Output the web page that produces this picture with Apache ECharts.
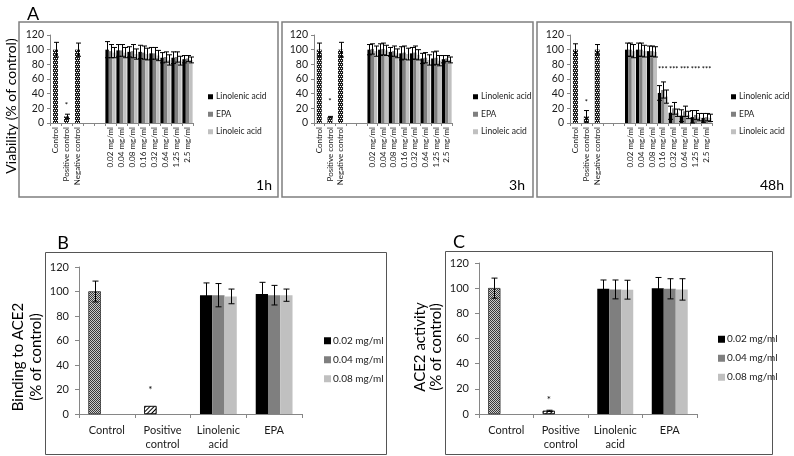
<!DOCTYPE html>
<html><head><meta charset="utf-8">
<script src="https://cdn.jsdelivr.net/npm/echarts@6/dist/echarts.min.js"></script>
<style>html,body{margin:0;padding:0;background:#fff}#c{width:794px;height:456px}</style>
</head><body><div id="c"></div>
<script>
// ---------------- DATA ----------------
const controlLabels = ['Control', 'Positive control', 'Negative control'];
const blankLabels = [' ', '  '];
const concLabels = ['0.02 mg/ml', '0.04 mg/ml', '0.08 mg/ml', '0.16 mg/ml', '0.32 mg/ml', '0.64 mg/ml', '1.25 mg/ml', '2.5 mg/ml'];
const seriesNamesA = ['Linolenic acid', 'EPA', 'Linoleic acid'];
const timeLabels = ['1h', '3h', '48h'];

// 1h
const ctrl1h = [100, 9, 100];
const ctrl1hErr = [10, 3, 9];
const linolenic1h = [100, 99, 97, 97, 95, 89, 89, 87];
const linolenic1hErr = [11, 8, 7, 9, 8, 7, 8, 5];
const epa1h = [98, 99, 98, 96, 95, 90, 90, 88];
const epa1hErr = [9, 8, 9, 9, 8, 7, 7, 4];
const linoleic1h = [96, 96, 94, 94, 92, 86, 85, 86];
const linoleic1hErr = [7, 7, 7, 8, 7, 7, 6, 4];
// 3h
const ctrl3h = [100, 8, 100];
const ctrl3hErr = [9, 1, 10];
const linolenic3h = [100, 100, 97, 95, 95, 88, 88, 87];
const linolenic3hErr = [7, 8, 6, 9, 8, 7, 9, 5];
const epa3h = [101, 101, 98, 96, 96, 89, 89, 88];
const epa3hErr = [7, 8, 7, 9, 9, 7, 9, 4];
const linoleic3h = [98, 99, 95, 94, 93, 86, 85, 86];
const linoleic3hErr = [7, 7, 6, 8, 7, 7, 7, 4];
// 48h
const ctrl48h = [100, 9, 100];
const ctrl48hErr = [8, 8, 7];
const linolenic48h = [100, 100, 98, 41, 14, 10, 8, 7];
const linolenic48hErr = [9, 9, 7, 10, 9, 8, 9, 6];
const epa48h = [100, 100, 98, 45, 20, 16, 11, 8];
const epa48hErr = [9, 9, 7, 11, 8, 7, 6, 5];
const linoleic48h = [98, 98, 97, 36, 14, 11, 8, 7];
const linoleic48hErr = [9, 8, 7, 9, 5, 5, 5, 5];
// significance marks
const starPosCtrlA = [24, 30, 28];       // y value of "*" above positive control
const star48hLevel = 73;                  // y value of "***" row in 48h
const star48hCats = ['0.16 mg/ml', '0.32 mg/ml', '0.64 mg/ml', '1.25 mg/ml', '2.5 mg/ml'];

// Panel B / C
const catsBC = ['Control', 'Positive\ncontrol', 'Linolenic\nacid', 'EPA'];
const doseNames = ['0.02 mg/ml', '0.04 mg/ml', '0.08 mg/ml'];
const binding02 = [100, 6.5, 97, 98];
const binding02Err = [8.5, 0, 10, 9.5];
const binding04 = [null, null, 97, 97];
const binding04Err = [null, null, 9.5, 8];
const binding08 = [null, null, 96, 97];
const binding08Err = [null, null, 6, 5];
const bindingStar = 20;
const activity02 = [100, 2.5, 99.5, 100];
const activity02Err = [8, 0.5, 7, 8.5];
const activity04 = [null, null, 99, 99.5];
const activity04Err = [null, null, 7.5, 8];
const activity08 = [null, null, 98.8, 99];
const activity08Err = [null, null, 7.5, 8.5];
const activityStar = 11;

const yTicks = [0, 20, 40, 60, 80, 100, 120];

// ---------------- STYLE ----------------
const FONT = 'Lato, "Liberation Sans", sans-serif';
const COLORS = ['#000000', '#7f7f7f', '#c0c0c0'];
const AXIS_COLOR = '#868686';
const TEXT = '#1a1a1a';

const catsA = controlLabels.concat(blankLabels, concLabels);
const padA = arr => [null, null, null, null, null].concat(arr);

const checkerDecal = {symbol: 'rect', symbolSize: 1, color: 'rgba(255,255,255,0.75)',
  dashArrayX: [[1, 1], [0, 1, 1, 0]], dashArrayY: [1, 0]};
const dotDecal = {symbol: 'rect', symbolSize: 1, color: '#ffffff',
  dashArrayX: [[1, 1], [0, 1, 1, 0]], dashArrayY: [1, 1]};
const hatchDecal = {symbol: 'rect', symbolSize: 1, color: '#000',
  dashArrayX: [1, 0], dashArrayY: [1, 1.5], rotation: -Math.PI / 4};

const ctrlStyleA = {color: '#1f1f1f', decal: dotDecal};
const ctrlStyleBC = {color: '#3a3a3a', borderColor: '#222', borderWidth: 0.5, decal: checkerDecal};
const posStyleBC = {color: '#ffffff', borderColor: '#000', borderWidth: 0.6, decal: hatchDecal};

function errRender(frac, cap) {
  return function (params, api) {
    const cat = api.value(0), v = api.value(1), e = api.value(2), slot = api.value(3);
    if (isNaN(v) || isNaN(e)) return;
    const band = api.size([1, 0])[0];
    const c = api.coord([cat, v]);
    const x = Math.round(c[0] + slot * band * frac) + 0.5;
    const yT = api.coord([cat, v + e])[1];
    const yB = api.coord([cat, Math.max(v - e, 0)])[1];
    const st = {stroke: '#000', lineWidth: 1};
    return {type: 'group', children: [
      {type: 'line', shape: {x1: x, y1: yT, x2: x, y2: yB}, style: st},
      {type: 'line', shape: {x1: x - cap / 2, y1: yT, x2: x + cap / 2, y2: yT}, style: st},
      {type: 'line', shape: {x1: x - cap / 2, y1: yB, x2: x + cap / 2, y2: yB}, style: st}
    ]};
  };
}
function textRender(frac, texts, size) {
  return function (params, api) {
    const cat = api.value(0), v = api.value(1), slot = api.value(2);
    const band = api.size([1, 0])[0];
    const c = api.coord([cat, v]);
    return {type: 'text', x: c[0] + slot * band * frac, y: c[1],
      style: {text: texts[params.dataIndex], fontSize: size, fontFamily: FONT, fill: '#000',
        align: 'center', verticalAlign: 'middle'}};
  };
}

const gridsA = [
  {left: 50, top: 35, width: 143, height: 88},
  {left: 314, top: 35, width: 138, height: 88},
  {left: 570, top: 35, width: 142, height: 88}
];
const gridB = {left: 79, top: 267, width: 223, height: 147};
const gridC = {left: 479, top: 263, width: 218, height: 151};

const panelsA = [
  {ctrl: ctrl1h, ctrlErr: ctrl1hErr, s: [linolenic1h, epa1h, linoleic1h], e: [linolenic1hErr, epa1hErr, linoleic1hErr]},
  {ctrl: ctrl3h, ctrlErr: ctrl3hErr, s: [linolenic3h, epa3h, linoleic3h], e: [linolenic3hErr, epa3hErr, linoleic3hErr]},
  {ctrl: ctrl48h, ctrlErr: ctrl48hErr, s: [linolenic48h, epa48h, linoleic48h], e: [linolenic48hErr, epa48hErr, linoleic48hErr]}
];

const grid = [], xAxis = [], yAxis = [], series = [], legend = [];
const FRAC_A = 0.31, FRAC_BC = 0.22;

const legendLeftA = [203, 468, 726];

panelsA.forEach((p, i) => {
  grid.push(gridsA[i]);
  const axLine = {show: true, lineStyle: {color: AXIS_COLOR, width: 1}};
  xAxis.push({type: 'category', gridIndex: i, data: catsA,
    axisLine: axLine, axisTick: {show: true, length: 3, lineStyle: {color: AXIS_COLOR}},
    axisLabel: {interval: 0, rotate: 90, fontSize: 8, color: TEXT, fontFamily: FONT, margin: 4}});
  xAxis.push({type: 'category', gridIndex: i, data: catsA, show: false});
  yAxis.push({type: 'value', gridIndex: i, min: 0, max: 120, interval: 20,
    splitLine: {show: false}, axisLine: axLine,
    axisTick: {show: true, length: 3, lineStyle: {color: AXIS_COLOR}},
    axisLabel: {fontSize: 10.5, color: TEXT, fontFamily: FONT, margin: 6}});
  const xMain = 2 * i, xOver = 2 * i + 1;
  // control bars (patterned), centred in their category
  series.push({type: 'bar', name: 'controls', xAxisIndex: xOver, yAxisIndex: i, barWidth: 5,
    silent: true, itemStyle: ctrlStyleA,
    data: p.ctrl.concat(new Array(10).fill(null))});
  seriesNamesA.forEach((nm, k) => {
    series.push({type: 'bar', name: nm, xAxisIndex: xMain, yAxisIndex: i, barWidth: (FRAC_A * 100) + '%',
      barGap: '0%', silent: true, itemStyle: {color: COLORS[k]}, data: padA(p.s[k])});
  });
  const errData = [];
  p.ctrl.forEach((v, j) => errData.push([j, v, p.ctrlErr[j], 0]));
  p.s.forEach((arr, k) => arr.forEach((v, j) => errData.push([5 + j, v, p.e[k][j], k - 1])));
  series.push({type: 'custom', xAxisIndex: xMain, yAxisIndex: i, silent: true, z: 5,
    renderItem: errRender(FRAC_A, 5), data: errData});
  const texts = ['*'];
  const tdata = [[1, starPosCtrlA[i], 0]];
  if (i === 2) star48hCats.forEach(c => { texts.push('***'); tdata.push([catsA.indexOf(c), star48hLevel, 0]); });
  series.push({type: 'custom', xAxisIndex: xMain, yAxisIndex: i, silent: true, z: 6,
    renderItem: textRender(FRAC_A, texts, i === 2 ? 7.5 : 8), data: tdata});
  legend.push({data: seriesNamesA, orient: 'vertical', left: legendLeftA[i], top: 86.5,
    icon: 'rect', itemWidth: 5, itemHeight: 5, itemGap: 7, selectedMode: false,
    textStyle: {fontSize: 8.5, lineHeight: 10.5, color: TEXT, fontFamily: FONT, padding: [0, 0, 0, -2]}});
});

function addBC(gi, g, s02, e02, s04, e04, s08, e08, starY, legendPos) {
  grid.push(g);
  const axLine = {show: true, lineStyle: {color: AXIS_COLOR, width: 1}};
  const xi = xAxis.length;
  xAxis.push({type: 'category', gridIndex: gi, data: catsBC, axisLine: axLine,
    axisTick: {show: true, length: 4, alignWithLabel: false, lineStyle: {color: AXIS_COLOR}},
    axisLabel: {interval: 0, fontSize: 11, color: TEXT, fontFamily: FONT, margin: 9, lineHeight: 14}});
  yAxis.push({type: 'value', gridIndex: gi, min: 0, max: 120, interval: 20,
    splitLine: {show: false}, axisLine: axLine,
    axisTick: {show: true, length: 4, lineStyle: {color: AXIS_COLOR}},
    axisLabel: {fontSize: 11, color: TEXT, fontFamily: FONT, margin: 10}});
  const d02 = s02.map((v, j) => j === 0 ? {value: v, itemStyle: ctrlStyleBC} : j === 1 ? {value: v, itemStyle: posStyleBC} : v);
  [d02, s04, s08].forEach((d, k) => {
    series.push({type: 'bar', name: doseNames[k], xAxisIndex: xi, yAxisIndex: gi, barWidth: (FRAC_BC * 100) + '%',
      barGap: '0%', silent: true, itemStyle: {color: COLORS[k]}, data: d});
  });
  const errData = [];
  [[s02, e02], [s04, e04], [s08, e08]].forEach(([s, e], k) => s.forEach((v, j) => {
    if (v != null && e[j]) errData.push([j, v, e[j], k - 1]);
  }));
  series.push({type: 'custom', xAxisIndex: xi, yAxisIndex: gi, silent: true, z: 5,
    renderItem: errRender(FRAC_BC, 6), data: errData});
  series.push({type: 'custom', xAxisIndex: xi, yAxisIndex: gi, silent: true, z: 6,
    renderItem: textRender(FRAC_BC, ['*'], 10), data: [[1, starY, -1]]});
  legend.push({data: doseNames, orient: 'vertical', left: legendPos[0], top: legendPos[1],
    icon: 'rect', itemWidth: 7, itemHeight: 7, itemGap: 7.5, selectedMode: false,
    textStyle: {fontSize: 10, lineHeight: 11.5, color: TEXT, fontFamily: FONT, padding: [0, 0, 0, -3]}});
}
addBC(3, gridB, binding02, binding02Err, binding04, binding04Err, binding08, binding08Err, bindingStar, [319, 330]);
addBC(4, gridC, activity02, activity02Err, activity04, activity04Err, activity08, activity08Err, activityStar, [713, 328.5]);

const boxA = {fill: 'none', stroke: '#7f7f7f', lineWidth: 1.5};
const boxBC = {fill: 'none', stroke: '#555', lineWidth: 1};
const txt = (x, y, text, size, extra) => Object.assign({type: 'text', x, y, silent: true,
  style: {text, fontSize: size, fontFamily: FONT, fill: '#000', align: 'center', verticalAlign: 'middle'}}, extra || {});
const graphic = [
  {type: 'rect', shape: {x: 19, y: 22, width: 259, height: 175}, style: boxA, silent: true},
  {type: 'rect', shape: {x: 282, y: 22, width: 251, height: 175}, style: boxA, silent: true},
  {type: 'rect', shape: {x: 537, y: 22, width: 254, height: 175}, style: boxA, silent: true},
  {type: 'rect', shape: {x: 45.5, y: 252.5, width: 341, height: 202}, style: boxBC, silent: true},
  {type: 'rect', shape: {x: 445.5, y: 251.5, width: 327, height: 203}, style: boxBC, silent: true},
  txt(33, 14, 'A', 18),
  txt(63, 243, 'B', 18),
  txt(459, 242, 'C', 18),
  txt(264, 185, timeLabels[0], 14),
  txt(517, 185, timeLabels[1], 14),
  txt(772, 185, timeLabels[2], 14),
  txt(11, 106, 'Viability (% of control)', 14, {rotation: Math.PI / 2}),
  txt(27, 357, 'Binding to ACE2\n(% of control)', 15, {rotation: Math.PI / 2}),
  txt(428, 347, 'ACE2 activity\n(% of control)', 15, {rotation: Math.PI / 2})
];
graphic[11].style.lineHeight = 16;
graphic[12].style.lineHeight = 18;
graphic[13].style.lineHeight = 16;

const chart = echarts.init(document.getElementById('c'), null, {renderer: 'canvas'});
chart.setOption({
  animation: false,
  backgroundColor: '#fff',
  textStyle: {fontFamily: FONT},
  grid, xAxis, yAxis, series, legend, graphic
});
</script></body></html>
